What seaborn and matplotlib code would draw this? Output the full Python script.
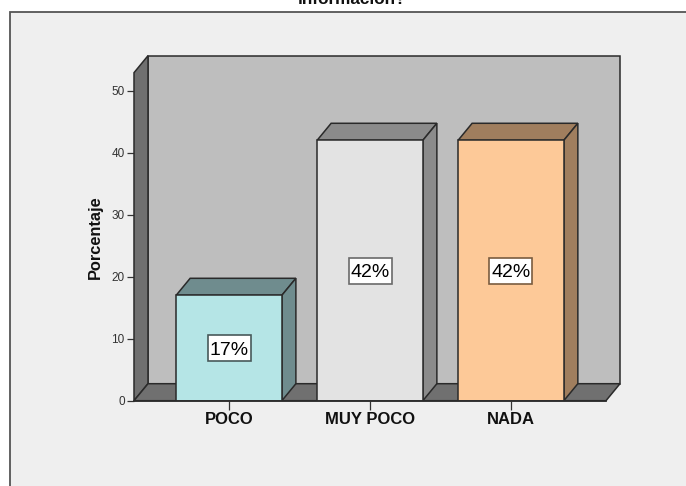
import matplotlib
matplotlib.use("Agg")
import matplotlib.pyplot as plt
from matplotlib.patches import Polygon, Rectangle
from matplotlib.transforms import ScaledTranslation
import seaborn as sns

# Survey answers and their percentage share
categories = ["POCO", "MUY POCO", "NADA"]
percentages = [17, 42, 42]
value_labels = ["17%", "42%", "42%"]
y_ticks = [0, 10, 20, 30, 40, 50]
title_text = "información?"
y_title = "Porcentaje"

front_colors = ["#b5e5e6", "#e3e3e3", "#fdc998"]
side_colors = ["#6f8c8e", "#8b8b8b", "#a07e5e"]
label_edges = ["#48595a", "#6a6a6a", "#7a5c40"]
WALL = "#bebebe"
SHADE = "#707070"
PANEL = "#efefef"
LINE = "#2a2a2a"

W, H = 686, 486
sns.set_theme(style="white")
plt.rcParams["font.family"] = ["Liberation Sans", "DejaVu Sans"]

fig = plt.figure(figsize=(W / 100, H / 100), dpi=100, facecolor="white")

# Light chart panel running off the right and bottom edges
fig.add_artist(Rectangle((9.5 / W, -0.1), 1.1, 1.1 - 12 / H, transform=fig.transFigure,
                         facecolor=PANEL, edgecolor="#555555", linewidth=1.3, zorder=-1))
fig.text(352 / W, 1 - 4 / H, title_text, ha="center", va="baseline",
         fontsize=12.3, fontweight="bold", color="#111111")

# The axes cover the front plane of the pseudo-3D box
left, right, bottom, top = 134, 606, 400.7, 72.7
ax = fig.add_axes([left / W, 1 - bottom / H, (right - left) / W, (bottom - top) / H])
ax.patch.set_alpha(0)

sns.barplot(x=categories, y=percentages, hue=categories, palette=front_colors,
            legend=False, width=0.75, edgecolor=LINE, linewidth=1.1, saturation=1,
            ax=ax, zorder=3)

xlim = (-0.674, 2.674)
ylim = (0, 52.9)
ax.set_xlim(xlim)
ax.set_ylim(ylim)

# Depth of the extrusion, in data units
dx = 14 / 141
dy = 17 / 6.2


def face(points, color, z, edge=LINE, lw=1.1):
    ax.add_patch(Polygon(points, closed=True, facecolor=color, edgecolor=edge,
                         linewidth=lw, zorder=z, clip_on=False))


# Bars first: the box faces added below would otherwise join this list
bars = list(ax.patches[:3])

x0, x1 = xlim
y1 = ylim[1]
face([(x0 + dx, dy), (x1 + dx, dy), (x1 + dx, y1 + dy), (x0 + dx, y1 + dy)], WALL, 0.5)
face([(x0, 0), (x0 + dx, dy), (x0 + dx, y1 + dy), (x0, y1)], SHADE, 0.6)
face([(x0, 0), (x1, 0), (x1 + dx, dy), (x0 + dx, dy)], SHADE, 0.6)

# Top and side faces extruded from each seaborn bar, plus a boxed value label
for bar, side, edge, label in zip(bars, side_colors, label_edges, value_labels):
    bx0, bx1 = bar.get_x(), bar.get_x() + bar.get_width()
    h = bar.get_height()
    cx = (bx0 + bx1) / 2
    face([(bx0, h), (bx1, h), (bx1 + dx, h + dy), (bx0 + dx, h + dy)], side, 2.5)
    face([(bx1, 0), (bx1 + dx, dy), (bx1 + dx, h + dy), (bx1, h)], side, 2.5)
    # Label box sized in pixels around the bar's centre
    ax.add_patch(Rectangle((-21.5, -13.5), 43, 26, facecolor="white", edgecolor=edge,
                           linewidth=1.2, zorder=4, clip_on=False,
                           transform=ScaledTranslation(cx, h / 2, ax.transData)))
    ax.annotate(label, (cx, h / 2), xytext=(0, -7), textcoords="offset pixels",
                ha="center", va="baseline", fontsize=14, color="black", zorder=5)

sns.despine(ax=ax, left=True, bottom=False, top=True, right=True)
ax.spines["bottom"].set_color(LINE)
ax.spines["bottom"].set_zorder(4)

ax.set_yticks(y_ticks)
ax.set_xticks(range(len(categories)))
ax.set_xticklabels(categories, fontweight="bold", fontsize=12, color="#111111")
ax.tick_params(axis="y", left=True, length=5.2, width=0.9, color="#333333",
               labelsize=8.5, labelcolor="#333333", pad=1.5)
ax.tick_params(axis="x", bottom=True, length=6.2, width=0.9, color="#333333", pad=2)
ax.set_xlabel("")
ax.set_ylabel("")
fig.text(95 / W, 1 - 237 / H, y_title, rotation=90, ha="center", va="center",
         fontsize=11.8, fontweight="bold", color="#111111")

fig.savefig("out.png", dpi=100, facecolor=fig.get_facecolor())
